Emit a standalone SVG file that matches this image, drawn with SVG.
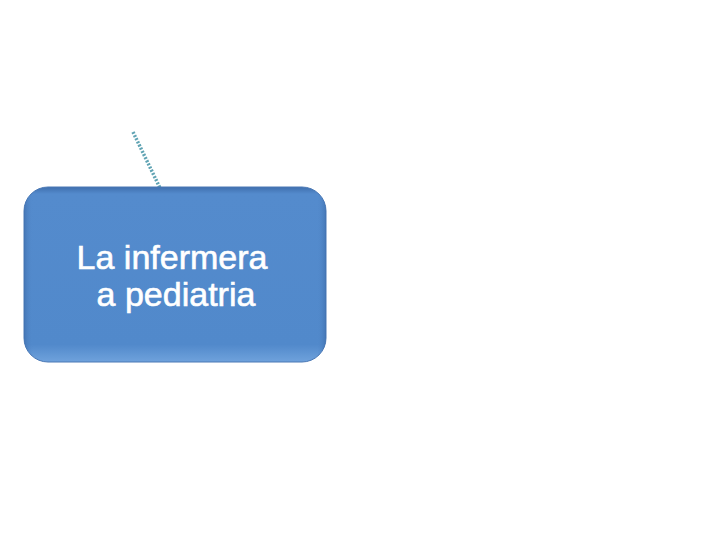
<svg xmlns="http://www.w3.org/2000/svg" width="720" height="540" viewBox="0 0 720 540">
<style>
.lbl{font-family:"Liberation Sans",Arial,sans-serif;font-size:34px;fill:#ffffff;stroke:#ffffff;stroke-width:0.6;text-anchor:middle}
.conn{stroke:#5fa3b3;stroke-width:3.5;stroke-dasharray:2 1.5;fill:none}
</style>
<defs>
<linearGradient id="bev" x1="0" y1="0" x2="0" y2="1">
<stop offset="0" stop-color="#3f6fae"/>
<stop offset="0.04" stop-color="#548bcd"/>
<stop offset="0.9" stop-color="#5189cb"/>
<stop offset="1" stop-color="#6fa2dc"/>
</linearGradient>
<linearGradient id="side" x1="0" y1="0" x2="1" y2="0">
<stop offset="0" stop-color="#3e6eac" stop-opacity="0.7"/>
<stop offset="0.03" stop-color="#548bcd" stop-opacity="0"/>
<stop offset="0.97" stop-color="#548bcd" stop-opacity="0"/>
<stop offset="1" stop-color="#3e6eac" stop-opacity="0.7"/>
</linearGradient>
</defs>
<rect width="720" height="540" fill="#ffffff"/>
<g id="connectors">
<line class="conn" x1="133" y1="132" x2="160" y2="188"/>
</g>
<g id="node1">
<rect x="24" y="187" width="302" height="175" rx="24" ry="24" fill="url(#bev)" stroke="#4a78b5" stroke-width="1"/>
<rect x="24" y="187" width="302" height="175" rx="24" ry="24" fill="url(#side)"/>
<text class="lbl" x="172" y="269">La infermera</text>
<text class="lbl" x="176" y="306">a pediatria</text>
</g>
</svg>
